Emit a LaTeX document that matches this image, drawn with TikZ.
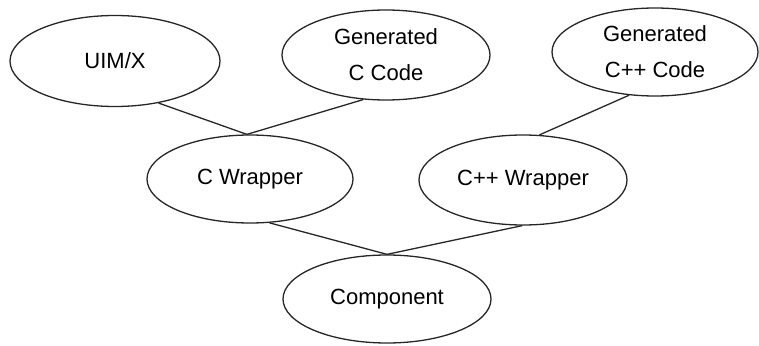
\documentclass[tikz,border=0pt]{standalone}
\usepackage{fontspec}
\setmainfont{Liberation Sans}
\usetikzlibrary{shapes.geometric}
\begin{document}
\begin{tikzpicture}[x=1pt,y=-1pt,
  bubble/.style={ellipse,draw=black!85,line width=1.3pt,inner sep=0pt,
    minimum width=208pt,minimum height=88pt,align=center,
    font=\fontsize{22}{36}\selectfont},
  link/.style={draw=black!85,line width=1.3pt}]
\useasboundingbox (0,0) rectangle (759,345);
\node[bubble,minimum width=210pt,minimum height=91pt] (uimx) at (115,61) {UIM/X};
\node[bubble,minimum width=208pt,minimum height=90pt] (genc) at (386,55) {Generated\\C Code};
\node[bubble,minimum width=206pt,minimum height=88pt] (gencpp) at (655,52) {Generated\\C++ Code};
\node[bubble,minimum width=206pt,minimum height=88pt] (cwrap) at (250,179) {C Wrapper};
\node[bubble,minimum width=208pt,minimum height=90pt] (cppwrap) at (523,180) {C++ Wrapper};
\node[bubble,minimum width=208pt,minimum height=88pt] (comp) at (387,299) {Component};
\draw[link] (uimx.-44) -- (cwrap.94);
\draw[link] (genc.-117) -- (cwrap.94);
\draw[link] (gencpp.-121) -- (cppwrap.70);
\draw[link] (cwrap.-66) -- (comp.90);
\draw[link] (cppwrap.-91) -- (comp.90);
\end{tikzpicture}
\end{document}
